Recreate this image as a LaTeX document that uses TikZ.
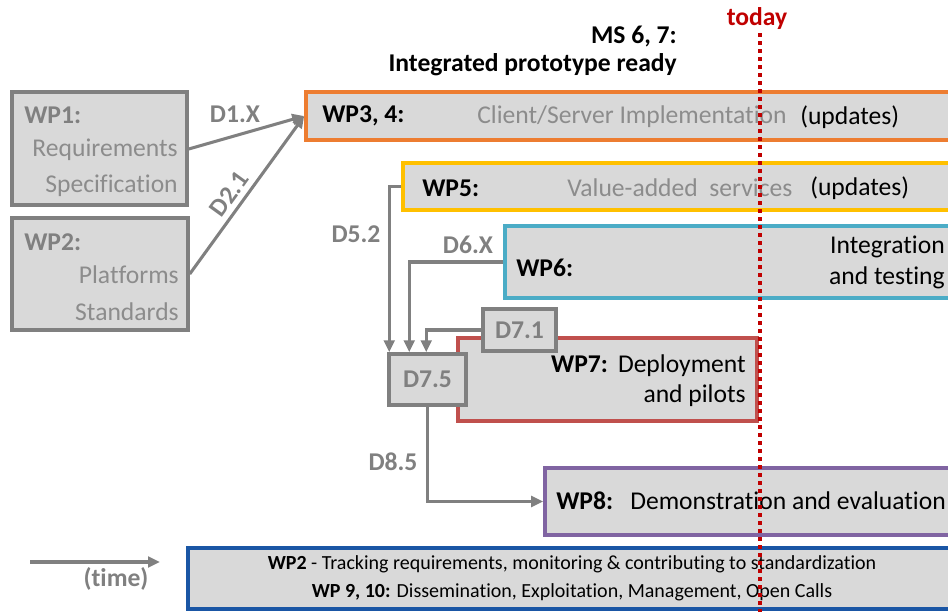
\documentclass[tikz,border=0pt]{standalone}
\usepackage{fontspec}
\setmainfont[Ligatures=NoCommon]{Carlito}
\usetikzlibrary{arrows.meta,fit,calc}
\definecolor{boxgray}{HTML}{D9D9D9}
\definecolor{linegray}{HTML}{808080}
\definecolor{txtgray}{HTML}{8C8C8C}
\definecolor{wporange}{HTML}{ED7D31}
\definecolor{wpyellow}{HTML}{FFC000}
\definecolor{wpcyan}{HTML}{4BACC6}
\definecolor{wpred}{HTML}{C0504D}
\definecolor{wppurple}{HTML}{8064A2}
\definecolor{wpblue}{HTML}{1A56A5}
\definecolor{todayred}{HTML}{C00000}
\newcommand\bigsz{\fontsize{19.2}{28}\selectfont}
\newcommand\smallsz{\fontsize{15}{21}\selectfont}
\begin{document}
\begin{tikzpicture}[x=0.75pt,y=-0.75pt,
  graybox/.style={draw=linegray, fill=boxgray, line width=2.6pt, inner sep=0pt},
  wpbox/.style={fill=boxgray, line width=2.7pt, inner sep=0pt, draw=#1},
  txt/.style={font=\bigsz, inner sep=0pt},
  gtxt/.style={font=\bigsz, text=txtgray, inner sep=0pt},
  dlbl/.style={font=\bigsz\bfseries, text=linegray, inner sep=0pt},
  arr/.style={draw=linegray, line width=2.3pt, -{Triangle[length=9pt,width=8pt]}}]
\path[use as bounding box] (0,0) rectangle (948,612);
\begin{scope}
\clip (0,0) rectangle (948,612);

% input work packages
\node[graybox, fit={(12,92)(187,205)}] (wp1) {};
\node[graybox, fit={(12,218)(188,330)}] (wp2) {};
\node[dlbl, anchor=west] (wp1t) at (24,115) {WP1:};
\node[gtxt, anchor=east] (wp1a) at (178,150) {Requirements};
\node[gtxt, anchor=east] (wp1b) at (178,186) {Specification};
\node[dlbl, anchor=west] (wp2t) at (24,242) {WP2:};
\node[gtxt, anchor=east] (wp2a) at (179,275) {Platforms};
\node[gtxt, anchor=east] (wp2b) at (179,312) {Standards};

% implementation bars
\node[wpbox=wporange, fit={(306,92)(960,140)}] (wp34) {};
\node[txt, font=\bigsz\bfseries, anchor=west] (wp34t) at (322,116) {WP3, 4:};
\node[gtxt, anchor=west] (wp34a) at (477,117) {Client/Server Implementation};
\node[txt, anchor=west] (wp34b) at (800,117) {(updates)};

\node[wpbox=wpyellow, fit={(403,163)(960,210)}] (wp5) {};
\node[txt, font=\bigsz\bfseries, anchor=west] (wp5t) at (422,188) {WP5:};
\node[gtxt, anchor=west] (wp5a) at (567,188) {Value-added\ \ services};
\node[txt, anchor=west] (wp5b) at (810,188) {(updates)};

\node[wpbox=wpcyan, fit={(505,226)(960,298)}] (wp6) {};
\node[txt, font=\bigsz\bfseries, anchor=west] (wp6t) at (516,268) {WP6:};
\node[txt, anchor=east] (wp6a) at (945,247) {Integration};
\node[txt, anchor=east] (wp6b) at (945,278) {and testing};

\node[wpbox=wpred, fit={(458,338)(757,421)}] (wp7) {};
\node[txt, anchor=east] (wp7a) at (746,366) {\textbf{WP7:}\ \,Deployment};
\node[txt, anchor=east] (wp7b) at (746,396) {and pilots};

\node[graybox, fit={(483,309)(556,351)}] (d71) {};
\node[dlbl] (d71t) at (d71) {D7.1};
\node[graybox, fit={(389,354)(466,405)}] (d75) {};
\node[dlbl] (d75t) at (d75) {D7.5};

\node[wpbox=wppurple, fit={(545,468)(960,535)}] (wp8) {};
\node[txt, font=\bigsz\bfseries, anchor=west] (wp8t) at (556,501) {WP8:};
\node[txt, anchor=west] (wp8a) at (630,501) {Demonstration and evaluation};

% cross-cutting activities
\node[wpbox=wpblue, fit={(188,548)(960,609)}] (wpx) {};
\node[font=\smallsz, inner sep=0pt] (wpx1) at (572,564) {\textbf{WP2} - Tracking requirements, monitoring \& contributing to standardization};
\node[font=\smallsz, inner sep=0pt] (wpx2) at (572,592) {\textbf{WP 9, 10:} Dissemination, Exploitation, Management, Open Calls};

% milestone
\node[txt, font=\bigsz\bfseries, anchor=east] (ms1) at (677,36) {MS 6, 7:};
\node[txt, font=\bigsz\bfseries, anchor=east] (ms2) at (677,65) {Integrated prototype ready};

% deliverable flows
\draw[arr] (wp1.east |- 0,149) -- (wp34.west);
\node[dlbl] (d1x) at (235,114) {D1.X};
\draw[arr] (wp2.east) -- node[dlbl, sloped, above=3.5pt, pos=0.45] (d21) {D2.1} (wp34.west);

\draw[arr] (wp5.west) -| ($(d75.north west)+(2,0)$);
\node[dlbl] (d52) at (356,234) {D5.2};
\draw[arr] (wp6.west) -| ($(d75.north west)+(22,0)$);
\node[dlbl] (d6x) at (468,245) {D6.X};
\draw[arr] (d71.west) -| ($(d75.north west)+(39,0)$);
\draw[arr] (d75.south) |- (wp8.west);
\node[dlbl] (d85) at (393,462) {D8.5};

% time axis
\coordinate (t0) at (30,562);
\coordinate (t1) at (160,562);
\draw[arr] (t0) -- (t1);
\node[dlbl] (time) at (116,579) {(time)};

% today marker
\node[font=\bigsz\bfseries, text=todayred, inner sep=0pt] (today) at (757,19) {today};
\coordinate (tl0) at (760,33);
\coordinate (tl1) at (760,612);
\draw[todayred, line width=3pt, dash pattern=on 3pt off 3pt] (tl0) -- (tl1);
\end{scope}
\end{tikzpicture}
\end{document}
